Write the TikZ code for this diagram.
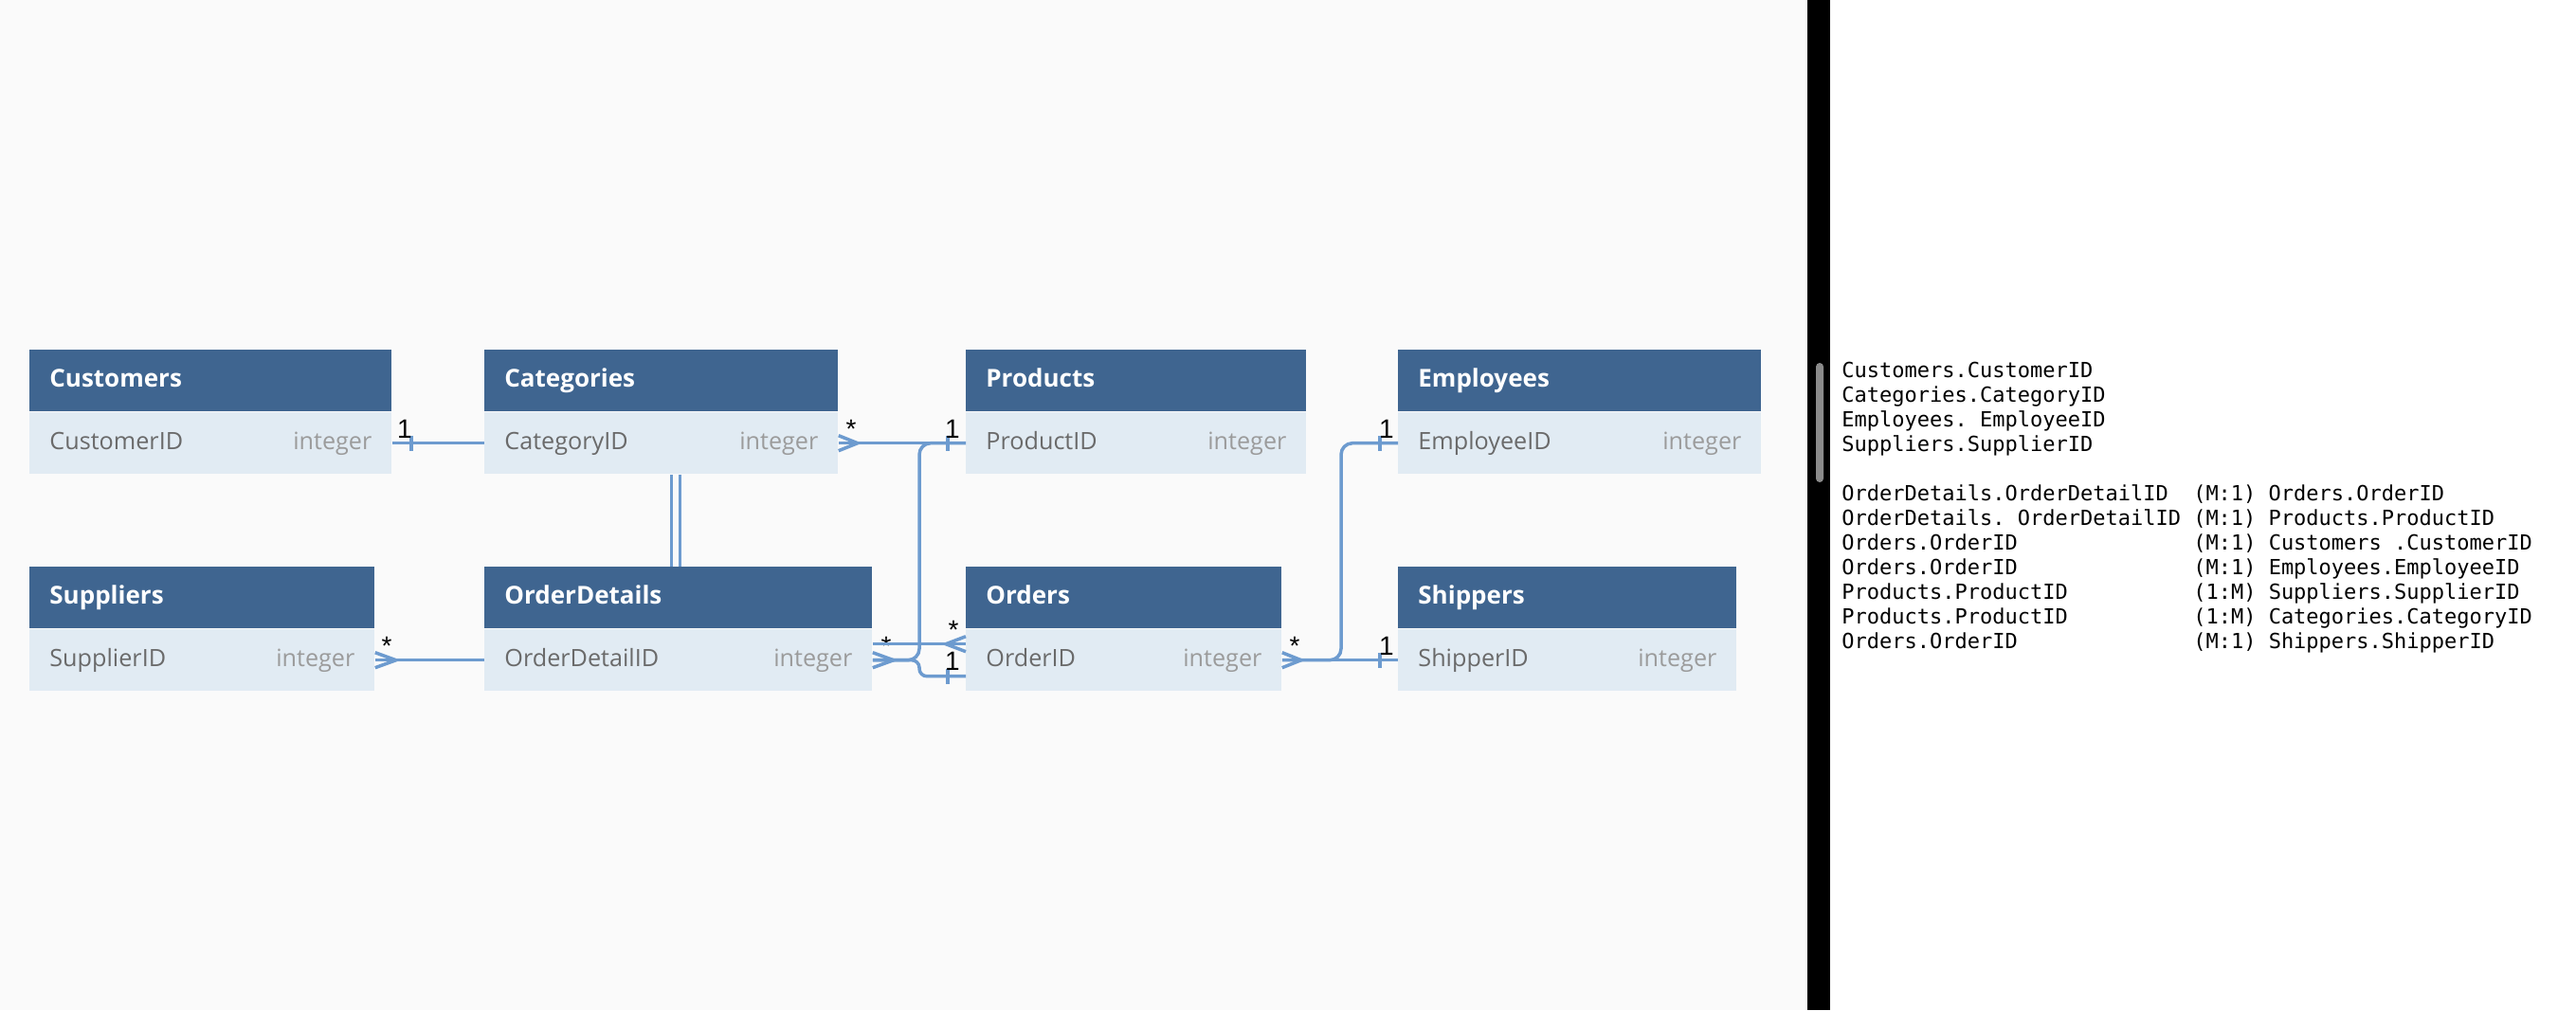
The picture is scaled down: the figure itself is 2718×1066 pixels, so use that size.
\documentclass[tikz,border=0pt]{standalone}
\usepackage{fontspec}
\setmainfont{Open Sans}
\setmonofont{DejaVu Sans Mono}
\newfontfamily\cardfont{Liberation Sans}
\usepackage{xcolor}
\usepackage{tikz}
\usetikzlibrary{positioning,calc}
\definecolor{canvas}{HTML}{FAFAFA}
\definecolor{headblue}{HTML}{3F6590}
\definecolor{rowblue}{HTML}{E1EBF3}
\definecolor{linkblue}{HTML}{6D9BCF}
\definecolor{fieldgrey}{HTML}{6A6A6A}
\definecolor{typegrey}{HTML}{9B9B9B}
\definecolor{scrollgrey}{HTML}{8A8A8A}

\begin{document}
\begin{tikzpicture}[
  x=0.5pt, y=-0.5pt,
  head/.style={rectangle, fill=headblue, text=white, text width=#1, align=left,
               inner xsep=10.5pt, inner ysep=0pt, minimum height=32.5pt,
               text height=9.5pt, text depth=3pt, anchor=north west,
               font=\fontsize{13}{15}\selectfont\bfseries},
  body/.style={rectangle, fill=rowblue, text=fieldgrey, text width=#1, align=left,
               inner xsep=10.5pt, inner ysep=0pt, minimum height=32.5pt,
               text height=9.5pt, text depth=3pt,
               font=\fontsize{12.6}{15}\selectfont},
  dtype/.style={text=typegrey, inner sep=0pt, text height=9.5pt, text depth=3pt,
                font=\fontsize{12.6}{15}\selectfont},
  link/.style={draw=linkblue, line width=1.75pt},
  card/.style={anchor=base, inner sep=0pt, text=black,
               font=\cardfont\fontsize{14}{16}\selectfont},
  listing/.style={anchor=base west, inner sep=0pt, text=black,
                  font=\ttfamily\fontsize{11}{13}\selectfont}
]

\useasboundingbox (0,0) rectangle (2718,1066);
\fill[canvas] (0,0) rectangle (1907,1066);
\fill[black] (1907,0) rectangle (1931,1066);
\fill[white] (1931,0) rectangle (2718,1066);
\fill[scrollgrey, rounded corners=2pt] (1916,383) rectangle (1924,509);

% tables, top row
\node[head=170pt] (cust) at (31,369) {Customers};
\node[body=170pt, below=0pt of cust] (cust-id) {CustomerID};
\node[dtype, left=10.5pt of cust-id.east] (cust-type) {integer};

\node[head=165.5pt] (cat) at (511,369) {Categories};
\node[body=165.5pt, below=0pt of cat] (cat-id) {CategoryID};
\node[dtype, left=10.5pt of cat-id.east] (cat-type) {integer};

\node[head=158.5pt] (prod) at (1019,369) {Products};
\node[body=158.5pt, below=0pt of prod] (prod-id) {ProductID};
\node[dtype, left=10.5pt of prod-id.east] (prod-type) {integer};

\node[head=170.5pt] (emp) at (1475,369) {Employees};
\node[body=170.5pt, below=0pt of emp] (emp-id) {EmployeeID};
\node[dtype, left=10.5pt of emp-id.east] (emp-type) {integer};

% tables, bottom row
\node[head=161pt] (supp) at (31,598) {Suppliers};
\node[body=161pt, below=0pt of supp] (supp-id) {SupplierID};
\node[dtype, left=10.5pt of supp-id.east] (supp-type) {integer};

\node[head=183.5pt] (od) at (511,598) {OrderDetails};
\node[body=183.5pt, below=0pt of od] (od-id) {OrderDetailID};
\node[dtype, left=10.5pt of od-id.east] (od-type) {integer};

\node[head=145.5pt] (ord) at (1019,598) {Orders};
\node[body=145.5pt, below=0pt of ord] (ord-id) {OrderID};
\node[dtype, left=10.5pt of ord-id.east] (ord-type) {integer};

\node[head=157.5pt] (ship) at (1475,598) {Shippers};
\node[body=157.5pt, below=0pt of ship] (ship-id) {ShipperID};
\node[dtype, left=10.5pt of ship-id.east] (ship-type) {integer};

\coordinate (catbar) at (712.5,0);
\coordinate (odbend) at (970,0);
\coordinate (ordbend) at (1415,0);
\coordinate (ordhigh) at ($(ord-id.west)+(0,-17)$);
\coordinate (ordlow) at ($(ord-id.west)+(0,17)$);

% Customers - Categories
\draw[link] (cust-id.east) -- (cat-id.west);
\draw[link] ([xshift=10pt]cust-id.east) ++(0,4pt) -- ++(0,-8pt);
\node[card] (cust-one) at (427,462) {1};

% Categories - Products
\draw[link] (cat-id.east) -- (prod-id.west);
\draw[link] ([yshift=4pt]cat-id.east) -- ([xshift=10pt]cat-id.east) -- ([yshift=-4pt]cat-id.east);
\draw[link] ([xshift=-9.5pt]prod-id.west) ++(0,4pt) -- ++(0,-8pt);
\node[card] (cat-many) at (898,462) {*};
\node[card] (prod-one) at (1005,462) {1};

% Categories = OrderDetails
\draw[link, line width=1.5pt, double=canvas, double distance=3pt] (catbar |- cat-id.south) -- (catbar |- od.north);

% Suppliers - OrderDetails
\draw[link] (supp-id.east) -- (od-id.west);
\draw[link] ([yshift=4pt]supp-id.east) -- ([xshift=11pt]supp-id.east) -- ([yshift=-4pt]supp-id.east);
\node[card] (supp-many) at (408,691) {*};

% OrderDetails - Products / Orders
\draw[link, rounded corners=6pt] (od-id.east) -| (odbend |- prod-id.west) -- (prod-id.west);
\draw[link, rounded corners=4pt] (od-id.east) -| (odbend |- ordlow) -- (ordlow);
\draw[link] ([yshift=4pt]od-id.east) -- ([xshift=11pt]od-id.east) -- ([yshift=-4pt]od-id.east);
\draw[link] ([xshift=-9.5pt]ordlow) ++(0,4pt) -- ++(0,-8pt);
\node[card] (od-many) at (935,691) {*};
\node[card] (ord-one) at (1005,707) {1};

\draw[link] (od-id.east |- ordhigh) -- (ordhigh);
\draw[link] ([yshift=4pt]ordhigh) -- ([xshift=-10.5pt]ordhigh) -- ([yshift=-4pt]ordhigh);
\node[card] (ord-many) at (1006,674) {*};

% Orders - Employees / Shippers
\draw[link, rounded corners=6pt] (ord-id.east) -| (ordbend |- emp-id.west) -- (emp-id.west);
\draw[link] (ord-id.east) -- (ship-id.west);
\draw[link] ([yshift=4pt]ord-id.east) -- ([xshift=10pt]ord-id.east) -- ([yshift=-4pt]ord-id.east);
\draw[link] ([xshift=-9.5pt]emp-id.west) ++(0,4pt) -- ++(0,-8pt);
\draw[link] ([xshift=-9.5pt]ship-id.west) ++(0,4pt) -- ++(0,-8pt);
\node[card] (ord-out) at (1366,691) {*};
\node[card] (emp-one) at (1463,462) {1};
\node[card] (ship-one) at (1463,691) {1};

% key and relation listing
\node[listing] (key1) at (1943,398) {Customers.CustomerID};
\node[listing] (key2) at (1943,424) {Categories.CategoryID};
\node[listing] (key3) at (1943,450) {Employees. EmployeeID};
\node[listing] (key4) at (1943,476) {Suppliers.SupplierID};

\node[listing] (rel1) at (1943,528) {OrderDetails.OrderDetailID~~(M:1) Orders.OrderID};
\node[listing] (rel2) at (1943,554) {OrderDetails. OrderDetailID (M:1) Products.ProductID};
\node[listing] (rel3) at (1943,580) {Orders.OrderID~~~~~~~~~~~~~~(M:1) Customers .CustomerID};
\node[listing] (rel4) at (1943,606) {Orders.OrderID~~~~~~~~~~~~~~(M:1) Employees.EmployeeID};
\node[listing] (rel5) at (1943,632) {Products.ProductID~~~~~~~~~~(1:M) Suppliers.SupplierID};
\node[listing] (rel6) at (1943,658) {Products.ProductID~~~~~~~~~~(1:M) Categories.CategoryID};
\node[listing] (rel7) at (1943,684) {Orders.OrderID~~~~~~~~~~~~~~(M:1) Shippers.ShipperID};
\end{tikzpicture}
\end{document}
